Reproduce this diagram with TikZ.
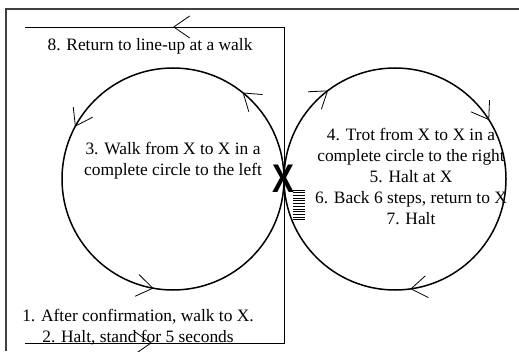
\documentclass[tikz,border=0pt]{standalone}
\usepackage{fontspec}
\setmainfont{Liberation Serif}
\newfontfamily\markfont{Liberation Sans}
\usetikzlibrary{arrows.meta, decorations.markings}

\begin{document}
\begin{tikzpicture}[x=1pt, y=1pt,
    barbtip/.tip={Straight Barb[length=16pt, width=22pt, line width=0.8pt]},
    tip at/.style={postaction={decorate, decoration={markings, mark=at position #1 with {\arrow{barbtip}}}}},
    lbl/.style={align=center, inner sep=0pt, font=\fontsize{17.4}{21}\selectfont},
    ring/.style={line width=1.5pt},
    lane/.style={line width=0.8pt}]
  \useasboundingbox (0,0) rectangle (519,351);
  % frame
  \draw[line width=1.6pt, black!75] (6,0) -- (6,342) -- (519,342);
  % route of the test
  \coordinate (start) at (25,8);
  \coordinate (turnB) at (284,8);
  \coordinate (turnT) at (284,324);
  \coordinate (finish) at (25,324);
  \draw[lane, tip at/.list={0.152,0.8225}] (start) -- (turnB) -- (turnT) -- (finish);
  % the two circles
  \coordinate (lc) at (173,172);
  \coordinate (rc) at (395,172);
  \draw[ring, tip at/.list={0.142,0.422,0.722}] (lc) ++(0:111) arc[start angle=0, end angle=360, radius=111];
  \draw[ring, tip at/.list={0.147,0.411,0.728}] (rc) ++(180:111) arc[start angle=180, end angle=-180, radius=111];
  % marker X and backing steps
  \node[font=\markfont\bfseries\fontsize{40}{40}\selectfont, xscale=0.82, inner sep=0pt] (xmark) at (283,172) {X};
  \foreach \i in {0,...,11}{
    \draw[line width=0.6pt] (293,{161-2.7*\i}) -- (305,{161-2.7*\i});
  }
  % instructions
  \node[lbl] (step8) at (150,305) {8. Return to line-up at a walk};
  \node[lbl] (step3) at (173,190) {3. Walk from X to X in a\\ complete circle to the left};
  \node[lbl] (step4) at (411,175) {4. Trot from X to X in a\\ complete circle to the right\\ 5. Halt at X\\ 6. Back 6 steps, return to X\\ 7. Halt};
  \node[lbl] (step1) at (138,24) {1. After confirmation, walk to X.\\ 2. Halt, stand for 5 seconds};
\end{tikzpicture}
\end{document}
